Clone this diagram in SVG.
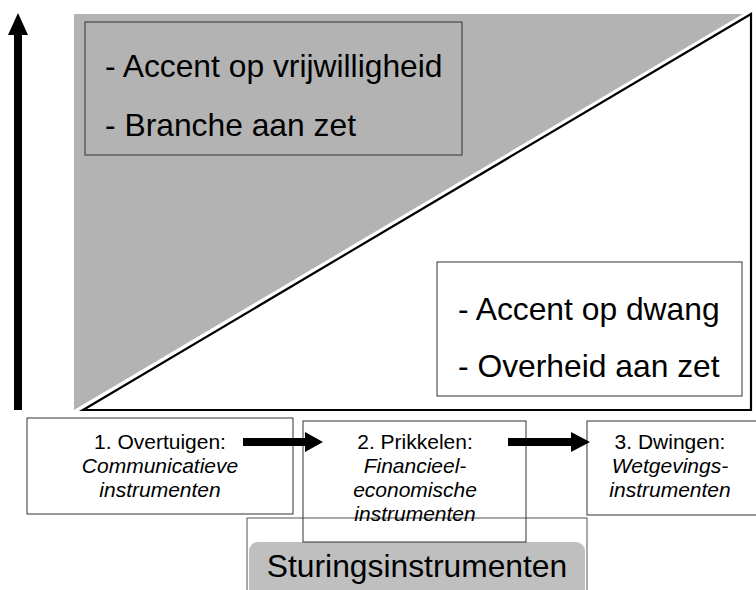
<svg xmlns="http://www.w3.org/2000/svg" width="756" height="590" viewBox="0 0 756 590">
<style>
text{font-family:"Liberation Sans",Arial,sans-serif;fill:#000}
.big{font-size:31.8px}
.sm{font-size:21px;text-anchor:middle}
.it{font-style:italic}
.box{fill:#fff;stroke:#333;stroke-width:1}
</style>
<rect width="756" height="590" fill="#fff"/>
<g id="field">
<polygon points="74,14 743,14 74,410" fill="#b3b3b3"/>
<polygon points="83,410 751,14 751,410" fill="#fff" stroke="#000" stroke-width="2.2" stroke-linejoin="miter"/>
</g>
<g id="axis">
<rect x="14" y="32" width="8" height="378" fill="#000"/>
<polygon points="8,35 28,35 18,13" fill="#000"/>
</g>
<g id="vrijwillig">
<rect x="85" y="22" width="377" height="133" fill="none" stroke="#333" stroke-width="1"/>
<text class="big" x="105" y="77">- Accent op vrijwilligheid</text>
<text class="big" x="105" y="136">- Branche aan zet</text>
</g>
<g id="dwang">
<rect x="437" y="262" width="305" height="134" class="box"/>
<text class="big" x="458" y="320">- Accent op dwang</text>
<text class="big" x="458" y="377">- Overheid aan zet</text>
</g>
<g id="sturing">
<rect x="247" y="518" width="340" height="80" fill="#fff" stroke="#555" stroke-width="1"/>
<rect x="249" y="542" width="336" height="60" rx="9" fill="#bfbfbf"/>
<text x="417" y="577" style="font-size:31.8px;text-anchor:middle">Sturingsinstrumenten</text>
</g>
<g id="overtuigen">
<rect x="27" y="418" width="266" height="96" class="box"/>
<text class="sm" x="160" y="449">1. Overtuigen:</text>
<text class="sm it" x="160" y="473">Communicatieve</text>
<text class="sm it" x="160" y="497">instrumenten</text>
</g>
<g id="prikkelen">
<rect x="303" y="421" width="223" height="121" fill="none" stroke="#333" stroke-width="1"/>
<text class="sm" x="415" y="449">2. Prikkelen:</text>
<text class="sm it" x="415" y="473">Financieel-</text>
<text class="sm it" x="415" y="497">economische</text>
<text class="sm it" x="415" y="521">instrumenten</text>
</g>
<g id="dwingen">
<rect x="587" y="421" width="180" height="94" class="box"/>
<text class="sm" x="670" y="449">3. Dwingen:</text>
<text class="sm it" x="670" y="473">Wetgevings-</text>
<text class="sm it" x="670" y="497">instrumenten</text>
</g>
<g id="connectors">
<rect x="243" y="438" width="64" height="8" fill="#000"/>
<polygon points="305,432 323,442 305,452" fill="#000"/>
<rect x="508" y="438" width="65" height="8" fill="#000"/>
<polygon points="571,432 590,442 571,452" fill="#000"/>
</g>
</svg>
